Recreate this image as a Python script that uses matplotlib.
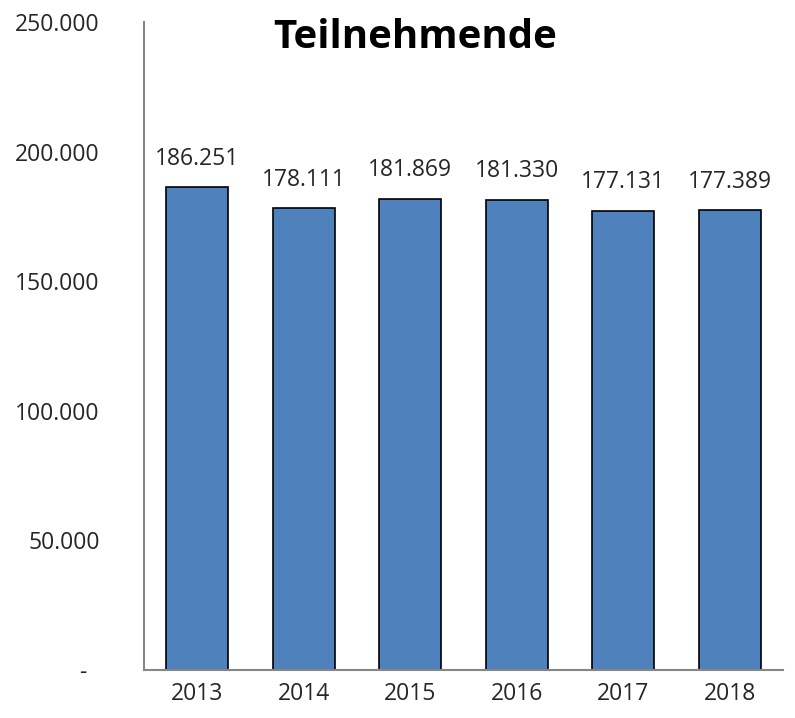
import numpy as np
import matplotlib
matplotlib.use("Agg")
import matplotlib.pyplot as plt

years = ["2013", "2014", "2015", "2016", "2017", "2018"]
participants = [186251, 178111, 181869, 181330, 177131, 177389]
yticks = [0, 50000, 100000, 150000, 200000, 250000]
ytick_labels = ["-  ", "50.000", "100.000", "150.000", "200.000", "250.000"]

plt.rcParams['font.family'] = ['Open Sans', 'DejaVu Sans']

fig = plt.figure(figsize=(7.95, 7.18), dpi=100)
ax = fig.add_axes([144/795, 1 - 670/718, (783 - 144)/795, (670 - 22)/718])

x = np.arange(len(years))
ax.bar(x, participants, width=0.58, color='#4F81BD', edgecolor='black', linewidth=1.2)

# data labels in German number format
for xi, v in zip(x, participants):
    ax.annotate(f"{v:,}".replace(",", "."), (xi, v), xytext=(0, 12),
                textcoords='offset points', ha='center', va='bottom',
                fontsize=16.5, color='#262626')

ax.set_xlim(-0.5, len(years) - 0.5)
ax.set_ylim(0, 250000)
ax.set_xticks(x)
ax.set_xticklabels(years, fontsize=16.5, color='#262626')
ax.set_yticks(yticks)
ax.set_yticklabels(ytick_labels, fontsize=16.5, color='#262626')
ax.tick_params(axis='both', length=0)
ax.tick_params(axis='y', pad=32)
ax.tick_params(axis='x', pad=9)

for s in ['top', 'right']:
    ax.spines[s].set_visible(False)
for s in ['left', 'bottom']:
    ax.spines[s].set_color('#868686')
    ax.spines[s].set_linewidth(1.5)

fig.text(415/795, 1 - 37/718, "Teilnehmende", ha='center', va='center',
         fontsize=29, fontweight='bold', color='black')

plt.savefig('out.png', dpi=100)
plt.close()
